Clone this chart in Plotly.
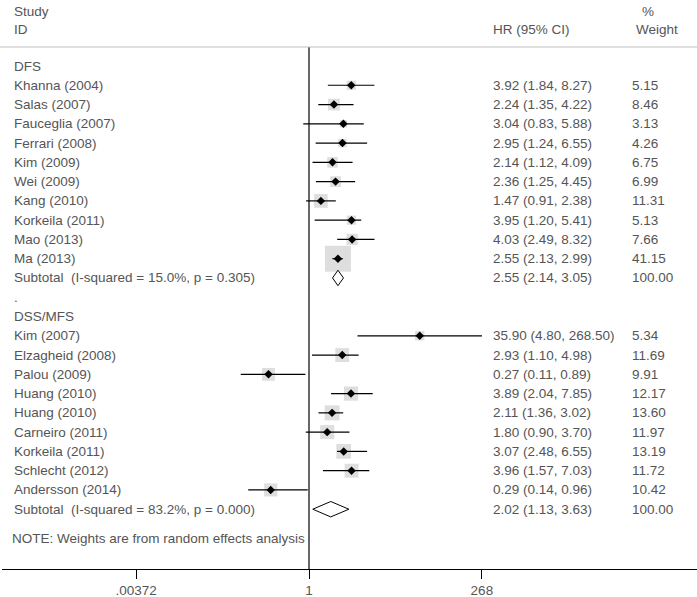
import plotly.graph_objects as go
import math

# ---- data ----
dfs_studies = ["Khanna (2004)", "Salas (2007)", "Fauceglia (2007)", "Ferrari (2008)", "Kim (2009)",
               "Wei (2009)", "Kang (2010)", "Korkeila (2011)", "Mao (2013)", "Ma (2013)"]
dfs_hr = [3.92, 2.24, 3.04, 2.95, 2.14, 2.36, 1.47, 3.95, 4.03, 2.55]
dfs_lo = [1.84, 1.35, 0.83, 1.24, 1.12, 1.25, 0.91, 1.20, 2.49, 2.13]
dfs_hi = [8.27, 4.22, 5.88, 6.55, 4.09, 4.45, 2.38, 5.41, 8.32, 2.99]
dfs_w = [5.15, 8.46, 3.13, 4.26, 6.75, 6.99, 11.31, 5.13, 7.66, 41.15]
dfs_sub = (2.55, 2.14, 3.05)
dfs_sub_label = "Subtotal  (I-squared = 15.0%, p = 0.305)"

dss_studies = ["Kim (2007)", "Elzagheid (2008)", "Palou (2009)", "Huang (2010)", "Huang (2010)",
               "Carneiro (2011)", "Korkeila (2011)", "Schlecht (2012)", "Andersson (2014)"]
dss_hr = [35.90, 2.93, 0.27, 3.89, 2.11, 1.80, 3.07, 3.96, 0.29]
dss_lo = [4.80, 1.10, 0.11, 2.04, 1.36, 0.90, 2.48, 1.57, 0.14]
dss_hi = [268.50, 4.98, 0.89, 7.85, 3.02, 3.70, 6.55, 7.03, 0.96]
dss_w = [5.34, 11.69, 9.91, 12.17, 13.60, 11.97, 13.19, 11.72, 10.42]
dss_sub = (2.02, 1.13, 3.63)
dss_sub_label = "Subtotal  (I-squared = 83.2%, p = 0.000)"

tick_vals = [0.00372, 1, 268]
tick_text = [".00372", "1", "268"]

# ---- layout geometry ----
W, H = 697, 597
ML, MR, MT, MB = 2, 0, 47, 28
PW = W - ML - MR
PH = H - MT - MB
ROW0, ROWH = 66.0, 19.27
x_null_px, px_per_dec = 309.0, 71.2
xr = [(ML - x_null_px) / px_per_dec, (W - MR - x_null_px) / px_per_dec]
yr = [(H - MB - ROW0) / ROWH, (MT - ROW0) / ROWH]

def px2paper(px):
    return (px - ML) / PW

def py2paper(py):
    return (H - MB - py) / PH

TXT = "#555555"
FONT = "Liberation Sans, Arial, sans-serif"
FS = 13.5

fig = go.Figure()

dfs_rows = list(range(1, 11))
dfs_sub_row = 11
dss_rows = list(range(14, 23))
dss_sub_row = 23

all_hr = dfs_hr + dss_hr
all_lo = dfs_lo + dss_lo
all_hi = dfs_hi + dss_hi
all_w = dfs_w + dss_w
all_rows = dfs_rows + dss_rows

# weight boxes
sizes = [26 * math.sqrt(w / 41.15) for w in all_w]
fig.add_trace(go.Scatter(x=all_hr, y=all_rows, mode="markers",
                         marker=dict(symbol="square", size=sizes, color="#d0d0d0", line=dict(width=0)),
                         hoverinfo="skip", showlegend=False))

# CI lines
cx, cy = [], []
for lo, hi, r in zip(all_lo, all_hi, all_rows):
    cx += [lo, hi, None]
    cy += [r, r, None]
fig.add_trace(go.Scatter(x=cx, y=cy, mode="lines", line=dict(color="black", width=1.2),
                         hoverinfo="skip", showlegend=False))

# point estimates
fig.add_trace(go.Scatter(x=all_hr, y=all_rows, mode="markers",
                         marker=dict(symbol="diamond", size=6.5, color="black"),
                         hoverinfo="skip", showlegend=False))

# subtotal diamonds
dh = 0.4
for (est, lo, hi), r in [(dfs_sub, dfs_sub_row), (dss_sub, dss_sub_row)]:
    fig.add_trace(go.Scatter(x=[lo, est, hi, est, lo], y=[r, r - dh, r, r + dh, r],
                             mode="lines", line=dict(color="black", width=1),
                             fill="toself", fillcolor="white",
                             hoverinfo="skip", showlegend=False))

# null line and top separator
fig.add_shape(type="line", xref="x", yref="paper", x0=1, x1=1, y0=0, y1=1,
              line=dict(color="black", width=1.2))
fig.add_shape(type="line", xref="paper", yref="paper", x0=-0.005, x1=1, y0=1, y1=1,
              line=dict(color="#c0c0c0", width=1.2))

def txt(px, row, s):
    fig.add_annotation(x=px2paper(px), xref="paper", y=row, yref="y", text=s,
                       showarrow=False, xanchor="left", yanchor="middle",
                       font=dict(family=FONT, size=FS, color=TXT))

def hdr(px, py, s):
    fig.add_annotation(x=px2paper(px), xref="paper", y=py2paper(py), yref="paper", text=s,
                       showarrow=False, xanchor="left", yanchor="middle",
                       font=dict(family=FONT, size=FS, color=TXT))

def fmt(e, l, h):
    return f"{e:.2f} ({l:.2f}, {h:.2f})"

hdr(12, 11, "Study")
hdr(12, 30, "ID")
hdr(491, 30, "HR (95% CI)")
hdr(640, 11, "%")
hdr(634, 30, "Weight")

txt(12, 0, "DFS")
for s, e, l, h, w, r in zip(dfs_studies, dfs_hr, dfs_lo, dfs_hi, dfs_w, dfs_rows):
    txt(12, r, s)
    txt(491, r, fmt(e, l, h))
    txt(630, r, f"{w:.2f}")
txt(12, dfs_sub_row, dfs_sub_label)
txt(491, dfs_sub_row, fmt(*dfs_sub))
txt(630, dfs_sub_row, "100.00")

txt(12, 12, ".")
txt(12, 13, "DSS/MFS")
for s, e, l, h, w, r in zip(dss_studies, dss_hr, dss_lo, dss_hi, dss_w, dss_rows):
    txt(12, r, s)
    txt(491, r, fmt(e, l, h))
    txt(630, r, f"{w:.2f}")
txt(12, dss_sub_row, dss_sub_label)
txt(491, dss_sub_row, fmt(*dss_sub))
txt(630, dss_sub_row, "100.00")

txt(10, 24.5, "NOTE: Weights are from random effects analysis")

fig.update_layout(
    width=W, height=H,
    margin=dict(l=ML, r=MR, t=MT, b=MB),
    plot_bgcolor="white", paper_bgcolor="white",
    xaxis=dict(type="log", range=xr, showgrid=False, zeroline=False,
               showline=True, linecolor="black", linewidth=1.2,
               ticks="outside", ticklen=9, tickcolor="black", tickwidth=1.2,
               tickvals=tick_vals, ticktext=tick_text,
               tickfont=dict(family=FONT, size=FS, color=TXT)),
    yaxis=dict(range=yr, showgrid=False, zeroline=False, showticklabels=False,
               showline=False),
)

fig.write_html("out.html", config={"displayModeBar": False},
               post_script="document.body.style.margin='0';document.body.style.overflow='hidden';")
